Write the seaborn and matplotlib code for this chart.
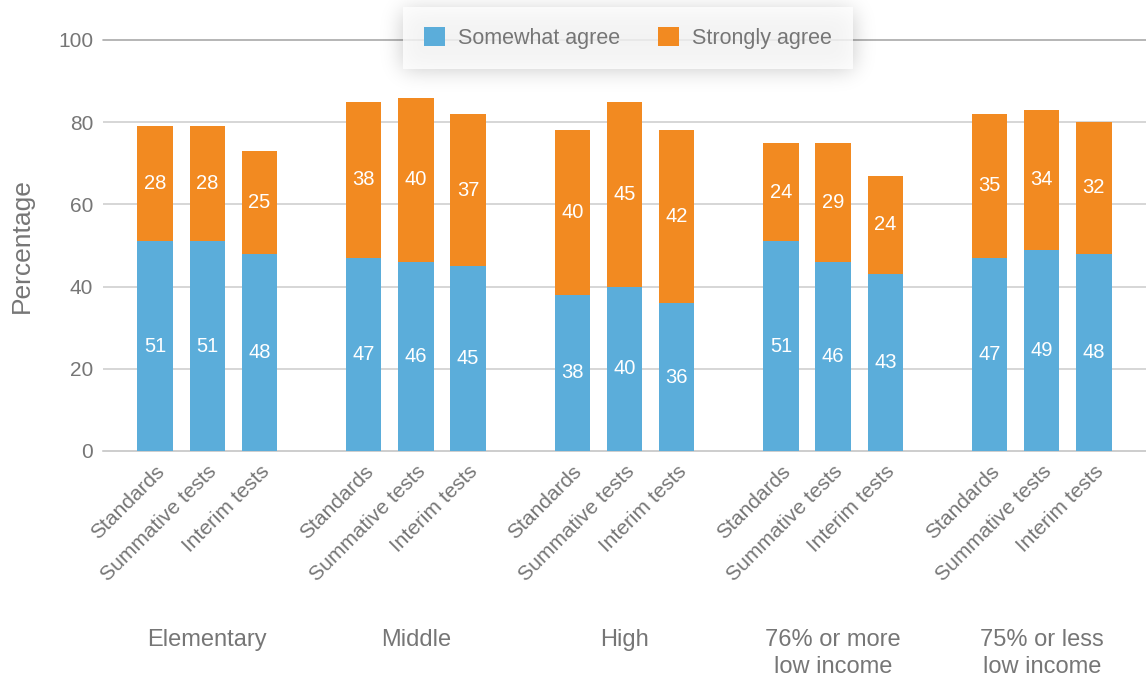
import numpy as np
import pandas as pd
import matplotlib
matplotlib.use("Agg")
import matplotlib.pyplot as plt
import seaborn as sns
from matplotlib.patches import Patch
import matplotlib.transforms as mtransforms

# Survey data: share of teachers agreeing, by school group and item
groups = ["Elementary", "Middle", "High", "76% or more\nlow income", "75% or less\nlow income"]
items = ["Standards", "Summative tests", "Interim tests"]
somewhat = [51, 51, 48, 47, 46, 45, 38, 40, 36, 51, 46, 43, 47, 49, 48]
strongly = [28, 28, 25, 38, 40, 37, 40, 45, 42, 24, 29, 24, 35, 34, 32]
series_names = ["Somewhat agree", "Strongly agree"]

BLUE = "#5badda"
ORANGE = "#f28a21"
TEXT = "#767676"
GRID = "#cccccc"

W, H = 1146, 677

sns.set_theme(style="white")
plt.rcParams["font.family"] = ["Liberation Sans", "DejaVu Sans"]

# x positions: three bars per group, one empty slot between groups
pos = []
for g in range(len(groups)):
    for j in range(len(items)):
        pos.append(g * 4 + j + 1)
df = pd.DataFrame({
    "pos": pos,
    "group": np.repeat(groups, len(items)),
    "item": items * len(groups),
    "somewhat": somewhat,
    "strongly": strongly,
})
df["total"] = df["somewhat"] + df["strongly"]

fig = plt.figure(figsize=(W / 100, H / 100), dpi=100)
ax = fig.add_axes([103 / W, 1 - 451 / H, 1 - 103 / W, (451 - 40) / H])

# gridlines
for yv in [20, 40, 60, 80]:
    ax.axhline(yv, color=GRID, lw=1.1, zorder=0)
ax.axhline(100, color="#a9a9a9", lw=1.2, zorder=0, clip_on=False)

bar_kw = dict(native_scale=True, width=0.68, saturation=1, ax=ax,
              errorbar=None, linewidth=0, edgecolor="none")
sns.barplot(data=df, x="pos", y="total", color=ORANGE, zorder=2, **bar_kw)
sns.barplot(data=df, x="pos", y="somewhat", color=BLUE, zorder=3, **bar_kw)

# value labels in the middle of each segment
for x, s, t in zip(df["pos"], df["somewhat"], df["strongly"]):
    ax.text(x, s / 2, f"{s}", ha="center", va="center", color="white", fontsize=14.5, zorder=5)
    ax.text(x, s + t / 2, f"{t}", ha="center", va="center", color="white", fontsize=14.5, zorder=5)

ax.set_xlim(0, 20)
ax.set_ylim(0, 100)
ax.set_yticks([0, 20, 40, 60, 80, 100])
ax.tick_params(axis="y", length=0, pad=7, labelsize=15, labelcolor=TEXT)

ax.set_xticks(pos)
ax.set_xticklabels(df["item"], rotation=45, ha="right", rotation_mode="anchor",
                   fontsize=15, color=TEXT)
ax.tick_params(axis="x", which="major", length=0, pad=8)
ax.set_xticks([0, 4, 8, 12, 16], minor=True)
ax.tick_params(axis="x", which="minor", length=15, width=1.1, color="#c0c0c0", direction="out")
ax.set_xlabel("")
ax.set_ylabel("Percentage", fontsize=19, color=TEXT)
ax.yaxis.set_label_coords(-0.066, 0.5)

for side in ["top", "right", "left"]:
    ax.spines[side].set_visible(False)
ax.spines["bottom"].set_color("#c0c0c0")
ax.spines["bottom"].set_linewidth(1.1)

# group labels under the rotated item labels
trans = mtransforms.blended_transform_factory(ax.transData, ax.transAxes)
for g, name in enumerate(groups):
    ax.text(g * 4 + 2, -0.433, name, transform=trans, ha="center", va="top",
            fontsize=17, color=TEXT, linespacing=1.3)

# legend box
handles = [Patch(facecolor=BLUE, edgecolor="none"), Patch(facecolor=ORANGE, edgecolor="none")]
leg = fig.legend(handles, series_names, loc="center", bbox_to_anchor=(628 / W, 1 - 38 / H),
                 ncol=2, frameon=True, fontsize=15.5, labelcolor=TEXT, handlelength=1.0,
                 handleheight=1.0, handletextpad=0.6, columnspacing=1.75,
                 borderpad=0.95, fancybox=False)
leg.get_frame().set_edgecolor("none")
leg.get_frame().set_facecolor("white")
leg.get_frame().set_linewidth(0)
leg.set_zorder(10)

# soft blurred drop shadow behind the legend box
bx0, bx1, by0, by1 = 403, 853, 11, 69
mask = np.zeros((H, W))
mask[by0:by1, bx0:bx1] = 1.0
sigma = 11.0
r = np.arange(-36, 37)
kern = np.exp(-0.5 * (r / sigma) ** 2)
kern /= kern.sum()
blur = np.apply_along_axis(lambda v: np.convolve(v, kern, mode="same"), 1, mask)
blur = np.apply_along_axis(lambda v: np.convolve(v, kern, mode="same"), 0, blur)
shadow = np.zeros((H, W, 4))
shadow[..., 3] = 0.22 * blur
fig.figimage(shadow, 0, 0, origin="upper", zorder=8)

fig.savefig("out.png", dpi=100)
